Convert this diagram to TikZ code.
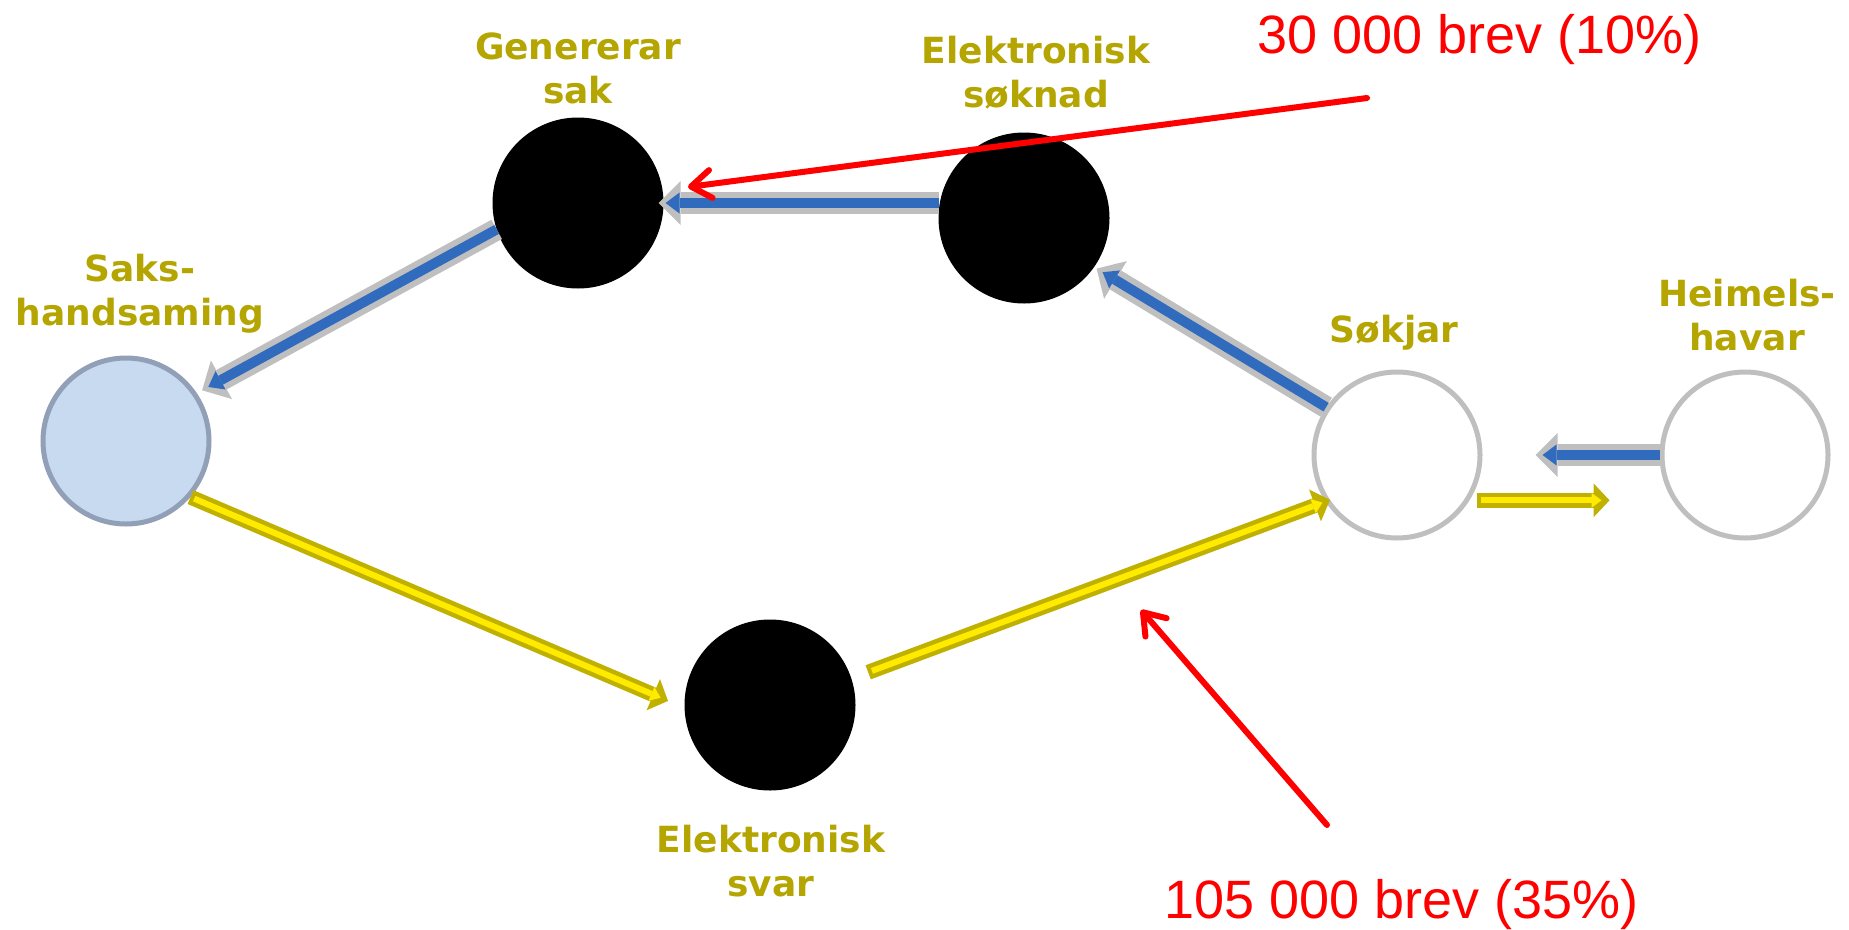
\documentclass[tikz,border=0pt]{standalone}
\usepackage{fontspec}
\newfontfamily\lblfont{DejaVu Sans}
\newfontfamily\numfont{Liberation Sans}
\usetikzlibrary{arrows.meta,positioning}
\definecolor{olivetext}{RGB}{180,165,0}
\definecolor{olivearrow}{RGB}{192,176,0}
\definecolor{yellowfill}{RGB}{255,235,0}
\definecolor{bluefill}{RGB}{49,107,189}
\definecolor{ringgray}{RGB}{191,191,191}
\definecolor{sakfill}{RGB}{200,218,240}
\definecolor{sakborder}{RGB}{145,160,182}

\tikzset{
  stn/.style={circle, minimum size=166pt, inner sep=0pt, line width=5pt},
  blackstn/.style={stn, draw=black, fill=black},
  whitestn/.style={stn, draw=ringgray, fill=white},
  lbl/.style={font=\lblfont\bfseries\fontsize{36}{44}\selectfont, text=olivetext, align=center, inner sep=0pt, text depth=0pt},
  blueout/.style={line width=22pt, draw=ringgray, -{Triangle[length=22pt,width=44pt,line width=0pt]}},
  bluein/.style={line width=10pt, draw=bluefill, -{Triangle[length=14pt,width=21pt,line width=0pt]}},
  yelout/.style={line width=15pt, draw=olivearrow, -{Triangle[length=16pt,width=34pt,line width=0pt]}},
  yelin/.style={line width=6pt, draw=yellowfill, -{Triangle[length=10pt,width=15pt,line width=0pt]}},
  redarr/.style={line width=6pt, draw=red, line cap=round, -{Straight Barb[length=20pt,width=28pt,round]}},
  brev/.style={font=\numfont\fontsize{54}{64}\selectfont, text=red, inner sep=0pt, anchor=base west}
}

\begin{document}
\begin{tikzpicture}[x=1pt, y=-1pt]
\useasboundingbox (0,0) rectangle (1849,929);
% Stations
    \node[whitestn, draw=sakborder, fill=sakfill] (saks) at (126,441) {};
    \node[blackstn] (gen) at (578,203) {};
    \node[blackstn] (soknad) at (1024,218) {};
    \node[whitestn] (sokjar) at (1397,455) {};
    \node[whitestn] (heimels) at (1745,455) {};
    \node[blackstn] (svar) at (770,705) {};
% Labels
    \node[lbl, above=13.5pt of gen] (genlbl) {Genererar\\sak};
    \node[lbl, above=24.5pt of soknad, xshift=12pt] (soknadlbl) {Elektronisk\\søknad};
    \node[lbl, above=29.5pt of saks, xshift=14pt] (sakslbl) {Saks-\\handsaming};
    \node[lbl, above=26.5pt of sokjar, xshift=-3pt] (sokjarlbl) {Søkjar};
    \node[lbl, above=18.5pt of heimels, xshift=2pt] (heimelslbl) {Heimels-\\havar};
    \node[lbl, below=34pt of svar, xshift=1pt] (svarlbl) {Elektronisk\\svar};
% Blue arrows
    \draw[blueout, shorten >=6pt] (gen.198) -- (saks.34);
    \draw[bluein, shorten >=13pt] (gen.198) -- (saks.34);
    \draw[blueout, shorten >=-5pt] (gen.east -| soknad.west) -- (gen.east);
    \draw[bluein, shorten >=2pt] (gen.east -| soknad.west) -- (gen.east);
    \draw[blueout, shorten >=3pt] (sokjar.146) -- (soknad.-35);
    \draw[bluein, shorten >=10pt] (sokjar.146) -- (soknad.-35);
    \draw[blueout, shorten >=53pt] (heimels.west) -- (sokjar.east);
    \draw[bluein, shorten >=60pt] (heimels.west) -- (sokjar.east);
% Yellow arrows
    \draw[yelout, shorten >=18pt] (saks.-41) -- (svar.182);
    \draw[yelin, shorten >=26pt, shorten <=4pt] (saks.-41) -- (svar.182);
    \draw[yelout, shorten <=18pt, shorten >=-5pt] (svar.18) -- (sokjar.213);
    \draw[yelin, shorten <=22pt, shorten >=3pt] (svar.18) -- (sokjar.213);
    \draw[yelout, shorten <=7pt, shorten >=50pt] (sokjar.-32) -- (sokjar.-32 -| heimels.west);
    \draw[yelin, shorten <=11pt, shorten >=58pt] (sokjar.-32) -- (sokjar.-32 -| heimels.west);
% Letter counts
    \coordinate (p1) at (1367,98);
    \coordinate (q1) at (688,187);
    \coordinate (p2) at (1327,825);
    \coordinate (q2) at (1141,610);
    \draw[redarr] (p1) -- (q1);
    \draw[redarr] (p2) -- (q2);
    \node[brev] (brev1) at (1257,53) {30 000 brev (10\%)};
    \node[brev] (brev2) at (1164,918) {105 000 brev (35\%)};
\end{tikzpicture}
\end{document}
